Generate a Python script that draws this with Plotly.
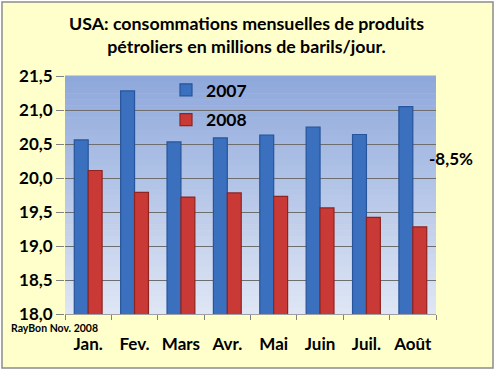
import plotly.graph_objects as go

months = ["Jan.", "Fev.", "Mars", "Avr.", "Mai", "Juin", "Juil.", "Août"]
v2007 = [20.56, 21.28, 20.53, 20.59, 20.63, 20.75, 20.64, 21.05]
v2008 = [20.11, 19.79, 19.72, 19.78, 19.73, 19.56, 19.42, 19.28]
y_ticks = [18.0, 18.5, 19.0, 19.5, 20.0, 20.5, 21.0, 21.5]

W, H = 498, 375
L, R, T, B = 65, 62, 76, 61
pw, ph = W - L - R, H - T - B

def px2x(px):
    return (px - L) / pw

def py2y(py):
    return (H - B - py) / ph

FONT = "Lato, Calibri, Arial, sans-serif"

fig = go.Figure()
fig.add_trace(go.Bar(x=months, y=v2007, name="<b>2007</b>", legendgroup="a",
                     marker=dict(color="#3B70BE", line=dict(color="#27549A", width=1.2))))
fig.add_trace(go.Bar(x=months, y=v2008, name="<b>2008</b>", legendgroup="b",
                     marker=dict(color="#C93A37", line=dict(color="#8E2320", width=1.2))))

shapes = []
# outer frame
shapes.append(dict(type="rect", xref="paper", yref="paper",
                   x0=px2x(2), x1=px2x(493), y0=py2y(368), y1=py2y(2),
                   fillcolor="#FFFFCC", line=dict(color="#8C8C8C", width=1.5), layer="below"))
# gradient background of plot area
n = 40
top = (143, 168, 219)
bot = (222, 230, 245)
for i in range(n):
    t = i / (n - 1)
    c = tuple(round(bot[k] + (top[k] - bot[k]) * t) for k in range(3))
    shapes.append(dict(type="rect", xref="paper", yref="paper",
                       x0=0, x1=1, y0=i / n, y1=(i + 1) / n + 0.002,
                       fillcolor="rgb(%d,%d,%d)" % c, line=dict(width=0), layer="below"))

fig.update_layout(
    width=W, height=H,
    margin=dict(l=L, r=R, t=T, b=B, autoexpand=False),
    paper_bgcolor="white",
    plot_bgcolor="rgba(0,0,0,0)",
    separators=", ",
    barmode="group", bargap=0.4, bargroupgap=0.0,
    shapes=shapes,
    font=dict(family=FONT, color="black"),
    xaxis=dict(showgrid=False, ticks="outside", tickson="boundaries", ticklen=5,
               tickcolor="#808080", showline=True, linecolor="#A0A0A0",
               tickfont=dict(size=17, family=FONT), tickangle=0, automargin=False,
               ticklabelstandoff=15),
    yaxis=dict(range=[18.0, 21.5], tickvals=y_ticks, tickformat=".1f",
               showgrid=True, gridcolor="#6E6E6E", gridwidth=1,
               ticks="outside", ticklen=8, tickcolor="#808080",
               showline=False, zeroline=False, automargin=False,
               tickfont=dict(size=17, family=FONT)),
    legend=dict(x=px2x(166), y=py2y(72), xanchor="left", yanchor="top",
                bgcolor="rgba(0,0,0,0)", traceorder="grouped", tracegroupgap=4,
                font=dict(size=17.5, family=FONT)),
    annotations=[
        dict(text="<b>USA: consommations mensuelles de produits<br>pétroliers en millions de barils/jour.</b>",
             x=px2x(246), y=py2y(10), xref="paper", yref="paper", xanchor="center", yanchor="top",
             showarrow=False, font=dict(size=17.8, family=FONT)),
        dict(text="<b>-8,5%</b>", x=px2x(451), y=py2y(158), xref="paper", yref="paper",
             xanchor="center", yanchor="middle",
             showarrow=False, font=dict(size=17, family=FONT)),
        dict(text="<b>RayBon Nov. 2008</b>", x=px2x(9), y=py2y(320), xref="paper", yref="paper",
             xanchor="left", yanchor="top", showarrow=False, font=dict(size=10.5, family=FONT)),
    ],
)

# bold tick labels
fig.update_xaxes(tickvals=months, ticktext=["<b>%s</b>" % m for m in months])
fig.update_yaxes(ticktext=["<b>%s</b>" % ("%.1f" % v).replace(".", ",") for v in y_ticks])

fig.write_html("out.html", config={"displayModeBar": False},
               post_script="document.body.style.margin='0';document.body.style.overflow='hidden';")
